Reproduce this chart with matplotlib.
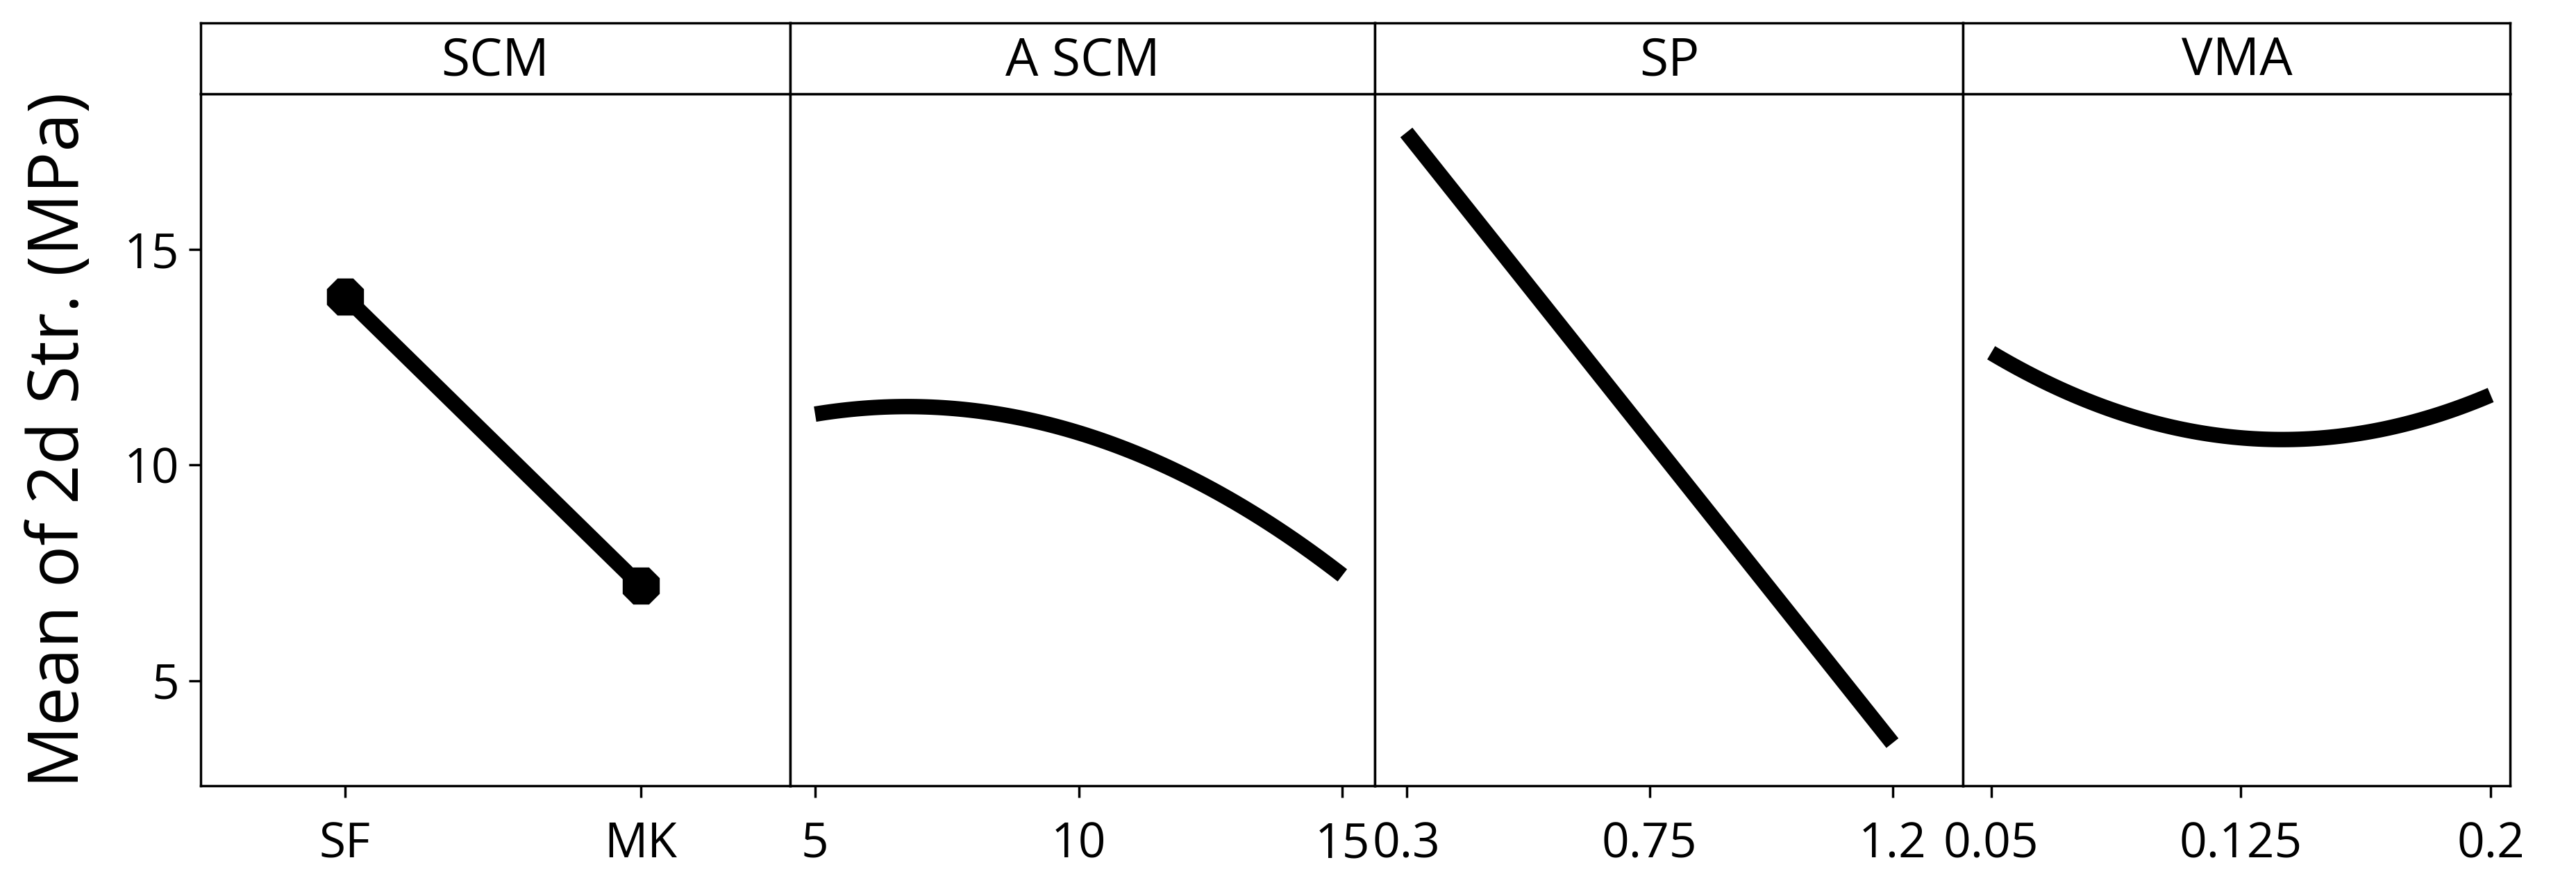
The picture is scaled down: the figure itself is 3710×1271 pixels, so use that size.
"""Main effects plot for mean of 2d strength."""

import matplotlib
matplotlib.use("Agg")
import matplotlib.pyplot as plt
import numpy as np

plt.rcParams["font.family"] = ["Open Sans", "DejaVu Sans"]

# data
scm_levels = ["SF", "MK"]
scm_means = [13.9, 7.2]

ascm_x = [5, 6, 7, 8, 9, 10, 11, 12, 13, 14, 15]
ascm_means = [11.2, 11.32, 11.33, 11.24, 11.05, 10.75, 10.33, 9.79, 9.12, 8.33, 7.43]

sp_x = [0.3, 1.2]
sp_means = [17.7, 3.56]

vma_x = [0.05, 0.075, 0.1, 0.125, 0.15, 0.175, 0.2]
vma_means = [12.6, 11.61, 10.96, 10.63, 10.63, 10.96, 11.62]

titles = ["SCM", "A_SCM", "SP", "VMA"]
xticks = [[0, 1], [5, 10, 15], [0.3, 0.75, 1.2], [0.05, 0.125, 0.2]]
xticklabels = [scm_levels, ["5", "10", "15"], ["0.3", "0.75", "1.2"], ["0.05", "0.125", "0.2"]]
xlims = [(-0.489, 1.506), (4.53, 15.62), (0.242, 1.331), (0.0416, 0.2059)]

fig = plt.figure(figsize=(37.1, 12.71), dpi=100)
edges = [0.0778, 0.3068, 0.5338, 0.7621, 0.9745]
bottom, strip_bottom, top = 0.110, 0.894, 0.974
LW = 16
SPINE = 2.5

axes = []
for i in range(4):
    x0, x1 = edges[i], edges[i + 1]
    ax = fig.add_axes([x0, bottom, x1 - x0, strip_bottom - bottom])
    sax = fig.add_axes([x0, strip_bottom, x1 - x0, top - strip_bottom])
    sax.set_xticks([])
    sax.set_yticks([])
    sax.text(0.5, 0.45, titles[i].replace("_", " "), ha="center", va="center",
             fontsize=54, transform=sax.transAxes)
    for s in sax.spines.values():
        s.set_linewidth(SPINE)
    for s in ax.spines.values():
        s.set_linewidth(SPINE)
    ax.set_ylim(2.57, 18.6)
    ax.set_xlim(*xlims[i])
    ax.set_xticks(xticks[i])
    ax.set_xticklabels(xticklabels[i])
    ax.tick_params(axis="x", labelsize=50, length=12, width=SPINE, pad=24)
    if i == 0:
        ax.set_yticks([5, 10, 15])
        ax.tick_params(axis="y", labelsize=50, length=12, width=SPINE, pad=10)
        ax.set_ylabel("Mean of 2d Str. (MPa)", fontsize=72, labelpad=30)
    else:
        ax.set_yticks([])
    axes.append(ax)

axes[0].plot([0, 1], scm_means, color="black", lw=LW, marker="8", markersize=40)

grid = np.linspace(5, 15, 100)
axes[1].plot(grid, np.polyval(np.polyfit(ascm_x, ascm_means, 2), grid),
             color="black", lw=LW, solid_capstyle="butt")

axes[2].plot(sp_x, sp_means, color="black", lw=LW, solid_capstyle="butt")

grid = np.linspace(0.05, 0.2, 100)
axes[3].plot(grid, np.polyval(np.polyfit(vma_x, vma_means, 2), grid),
             color="black", lw=LW, solid_capstyle="butt")

fig.savefig("out.png", dpi=100)
plt.close(fig)
